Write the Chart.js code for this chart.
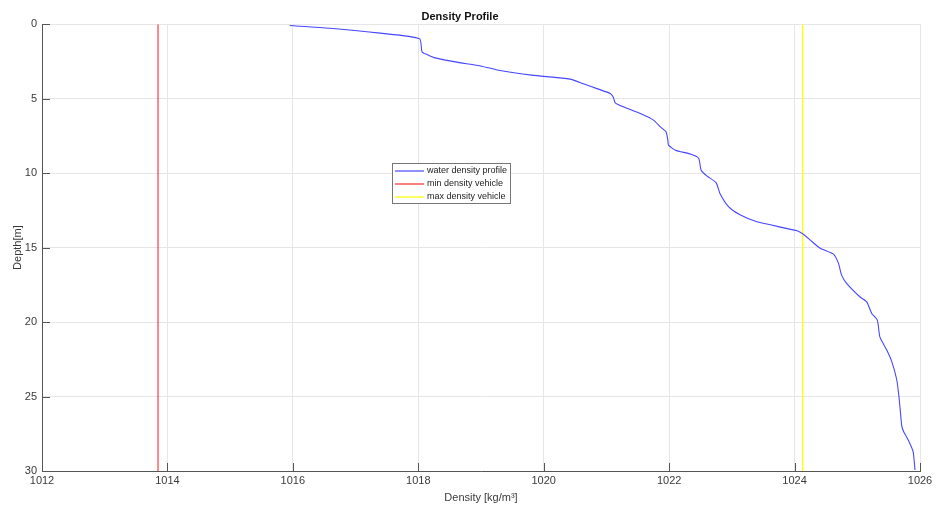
<!DOCTYPE html>
<html>
<head>
<meta charset="utf-8">
<title>Density Profile</title>
<script src="https://cdn.jsdelivr.net/npm/chart.js@4.4.1/dist/chart.umd.min.js"></script>
<style>
  html, body { margin: 0; padding: 0; background: #fff; }
  #wrap { width: 936px; height: 513px; }
</style>
</head>
<body>
<div id="wrap"><canvas id="densityChart" width="936" height="513"></canvas></div>
<script>
// Water density profile (depth in m, density in kg/m^3)
const depthM = [
    0.09, 0.27, 0.6, 0.98, 1.86, 2.05, 2.26, 2.53, 2.82, 3.09,
    3.42, 3.69, 3.98, 4.36, 4.65, 4.9, 5.28, 5.6, 6.0, 6.44,
    6.9, 7.23, 7.8, 8.12, 8.46, 8.72, 9.0, 9.8, 10.18, 10.65,
    11.36, 12.26, 12.8, 13.27, 13.87, 14.1, 14.5, 15.05, 15.44, 16.06,
    16.85, 17.4, 18.3, 18.64, 19.42, 19.87, 20.99, 21.88, 22.66, 23.89,
    25.23, 27.0, 27.36, 27.9, 28.7, 29.93
];
const waterDensity = [
    1015.95, 1016.59, 1017.39, 1018.02, 1018.06, 1018.15, 1018.27, 1018.59, 1019.01, 1019.28,
    1019.81, 1020.42, 1020.62, 1020.87, 1021.06, 1021.11, 1021.14, 1021.30, 1021.54, 1021.75,
    1021.86, 1021.95, 1021.98, 1021.99, 1022.10, 1022.34, 1022.47, 1022.51, 1022.60, 1022.75,
    1022.81, 1022.95, 1023.13, 1023.40, 1024.04, 1024.14, 1024.25, 1024.41, 1024.62, 1024.70,
    1024.75, 1024.83, 1025.04, 1025.15, 1025.23, 1025.32, 1025.36, 1025.47, 1025.55, 1025.63,
    1025.67, 1025.71, 1025.74, 1025.81, 1025.89, 1025.92
];

// Vehicle density limits (vertical lines over the full depth range)
const minDensityVehicle = 1013.85;
const maxDensityVehicle = 1024.13;
const vehicleLineDepths = [0, 30];

// Axis ranges / ticks
const densityRange = [1012, 1026];
const densityStep = 2;
const depthRange = [0, 30];
const depthStep = 5;

const seriesNames = ['water density profile', 'min density vehicle', 'max density vehicle'];
const seriesColors = ['rgb(70, 70, 255)', 'rgb(255, 40, 40)', 'rgb(255, 255, 0)'];

const FONT = "'Liberation Sans', Arial, sans-serif";
const AXIS_COLOR = '#555555';
const GRID_COLOR = '#e6e6e6';
const TEXT_COLOR = '#3a3a3a';

const profilePoints = depthM.map((d, i) => ({ x: waterDensity[i], y: d }));
const minPoints = vehicleLineDepths.map(d => ({ x: minDensityVehicle, y: d }));
const maxPoints = vehicleLineDepths.map(d => ({ x: maxDensityVehicle, y: d }));

// MATLAB-ish inward ticks and a legend box inside the axes
const matlabAxes = {
    id: 'matlabAxes',
    afterDraw(chart) {
        const { ctx, chartArea: a, scales: { x, y } } = chart;
        ctx.save();
        ctx.strokeStyle = AXIS_COLOR;
        ctx.lineWidth = 1;
        ctx.beginPath();
        x.ticks.forEach(t => {
            const px = Math.round(x.getPixelForValue(t.value)) + 0.5;
            ctx.moveTo(px, a.bottom);
            ctx.lineTo(px, a.bottom - 8);
        });
        y.ticks.forEach(t => {
            const py = Math.round(y.getPixelForValue(t.value)) + 0.5;
            ctx.moveTo(a.left, py);
            ctx.lineTo(a.left + 8, py);
        });
        ctx.stroke();

        // legend
        const lx = 392, ly = 163, lw = 118, lh = 40;
        ctx.fillStyle = '#ffffff';
        ctx.fillRect(lx, ly, lw, lh);
        ctx.strokeStyle = '#777777';
        ctx.strokeRect(lx + 0.5, ly + 0.5, lw, lh);
        ctx.font = '9px ' + FONT;
        ctx.textBaseline = 'middle';
        ctx.fillStyle = '#222222';
        seriesNames.forEach((name, i) => {
            const ry = ly + 8 + i * 13;
            ctx.strokeStyle = seriesColors[i];
            ctx.lineWidth = 1.2;
            ctx.beginPath();
            ctx.moveTo(lx + 3, ry);
            ctx.lineTo(lx + 32, ry);
            ctx.stroke();
            ctx.fillText(name, lx + 35, ry);
        });
        ctx.restore();
    }
};

const tickFont = { family: FONT, size: 11 };

new Chart(document.getElementById('densityChart'), {
    type: 'scatter',
    data: {
        datasets: [
            { label: seriesNames[0], data: profilePoints, showLine: true, borderColor: seriesColors[0], borderWidth: 1.1, pointRadius: 0, tension: 0.2 },
            { label: seriesNames[1], data: minPoints, showLine: true, borderColor: seriesColors[1], borderWidth: 1.1, pointRadius: 0 },
            { label: seriesNames[2], data: maxPoints, showLine: true, borderColor: seriesColors[2], borderWidth: 1.3, pointRadius: 0 }
        ]
    },
    options: {
        responsive: false,
        animation: false,
        devicePixelRatio: 1,
        layout: { padding: { left: 0, right: 16, top: 0, bottom: 0 } },
        plugins: {
            legend: { display: false },
            tooltip: { enabled: false },
            title: {
                display: true, text: 'Density Profile', color: '#111',
                font: { family: FONT, size: 11, weight: 'bold' },
                padding: { top: 10, bottom: 1 }
            }
        },
        scales: {
            x: {
                type: 'linear', min: densityRange[0], max: densityRange[1],
                ticks: { stepSize: densityStep, color: TEXT_COLOR, font: tickFont, padding: 3, maxRotation: 0, callback: v => String(v) },
                grid: { color: GRID_COLOR, drawTicks: false },
                border: { color: AXIS_COLOR, width: 1 },
                title: { display: true, text: 'Density [kg/m³]', color: TEXT_COLOR, font: tickFont, padding: { top: 0, bottom: 8 } },
                afterFit: s => { s.height = 42; }
            },
            y: {
                type: 'linear', reverse: true, min: depthRange[0], max: depthRange[1],
                ticks: { stepSize: depthStep, color: TEXT_COLOR, font: tickFont, padding: 5, callback: v => String(v) },
                grid: { color: GRID_COLOR, drawTicks: false },
                border: { color: AXIS_COLOR, width: 1 },
                title: { display: true, text: 'Depth[m]', color: TEXT_COLOR, font: tickFont, padding: { top: 11, bottom: 0 } },
                afterFit: s => { s.width = 42; }
            }
        }
    },
    plugins: [matlabAxes]
});
</script>
</body>
</html>
